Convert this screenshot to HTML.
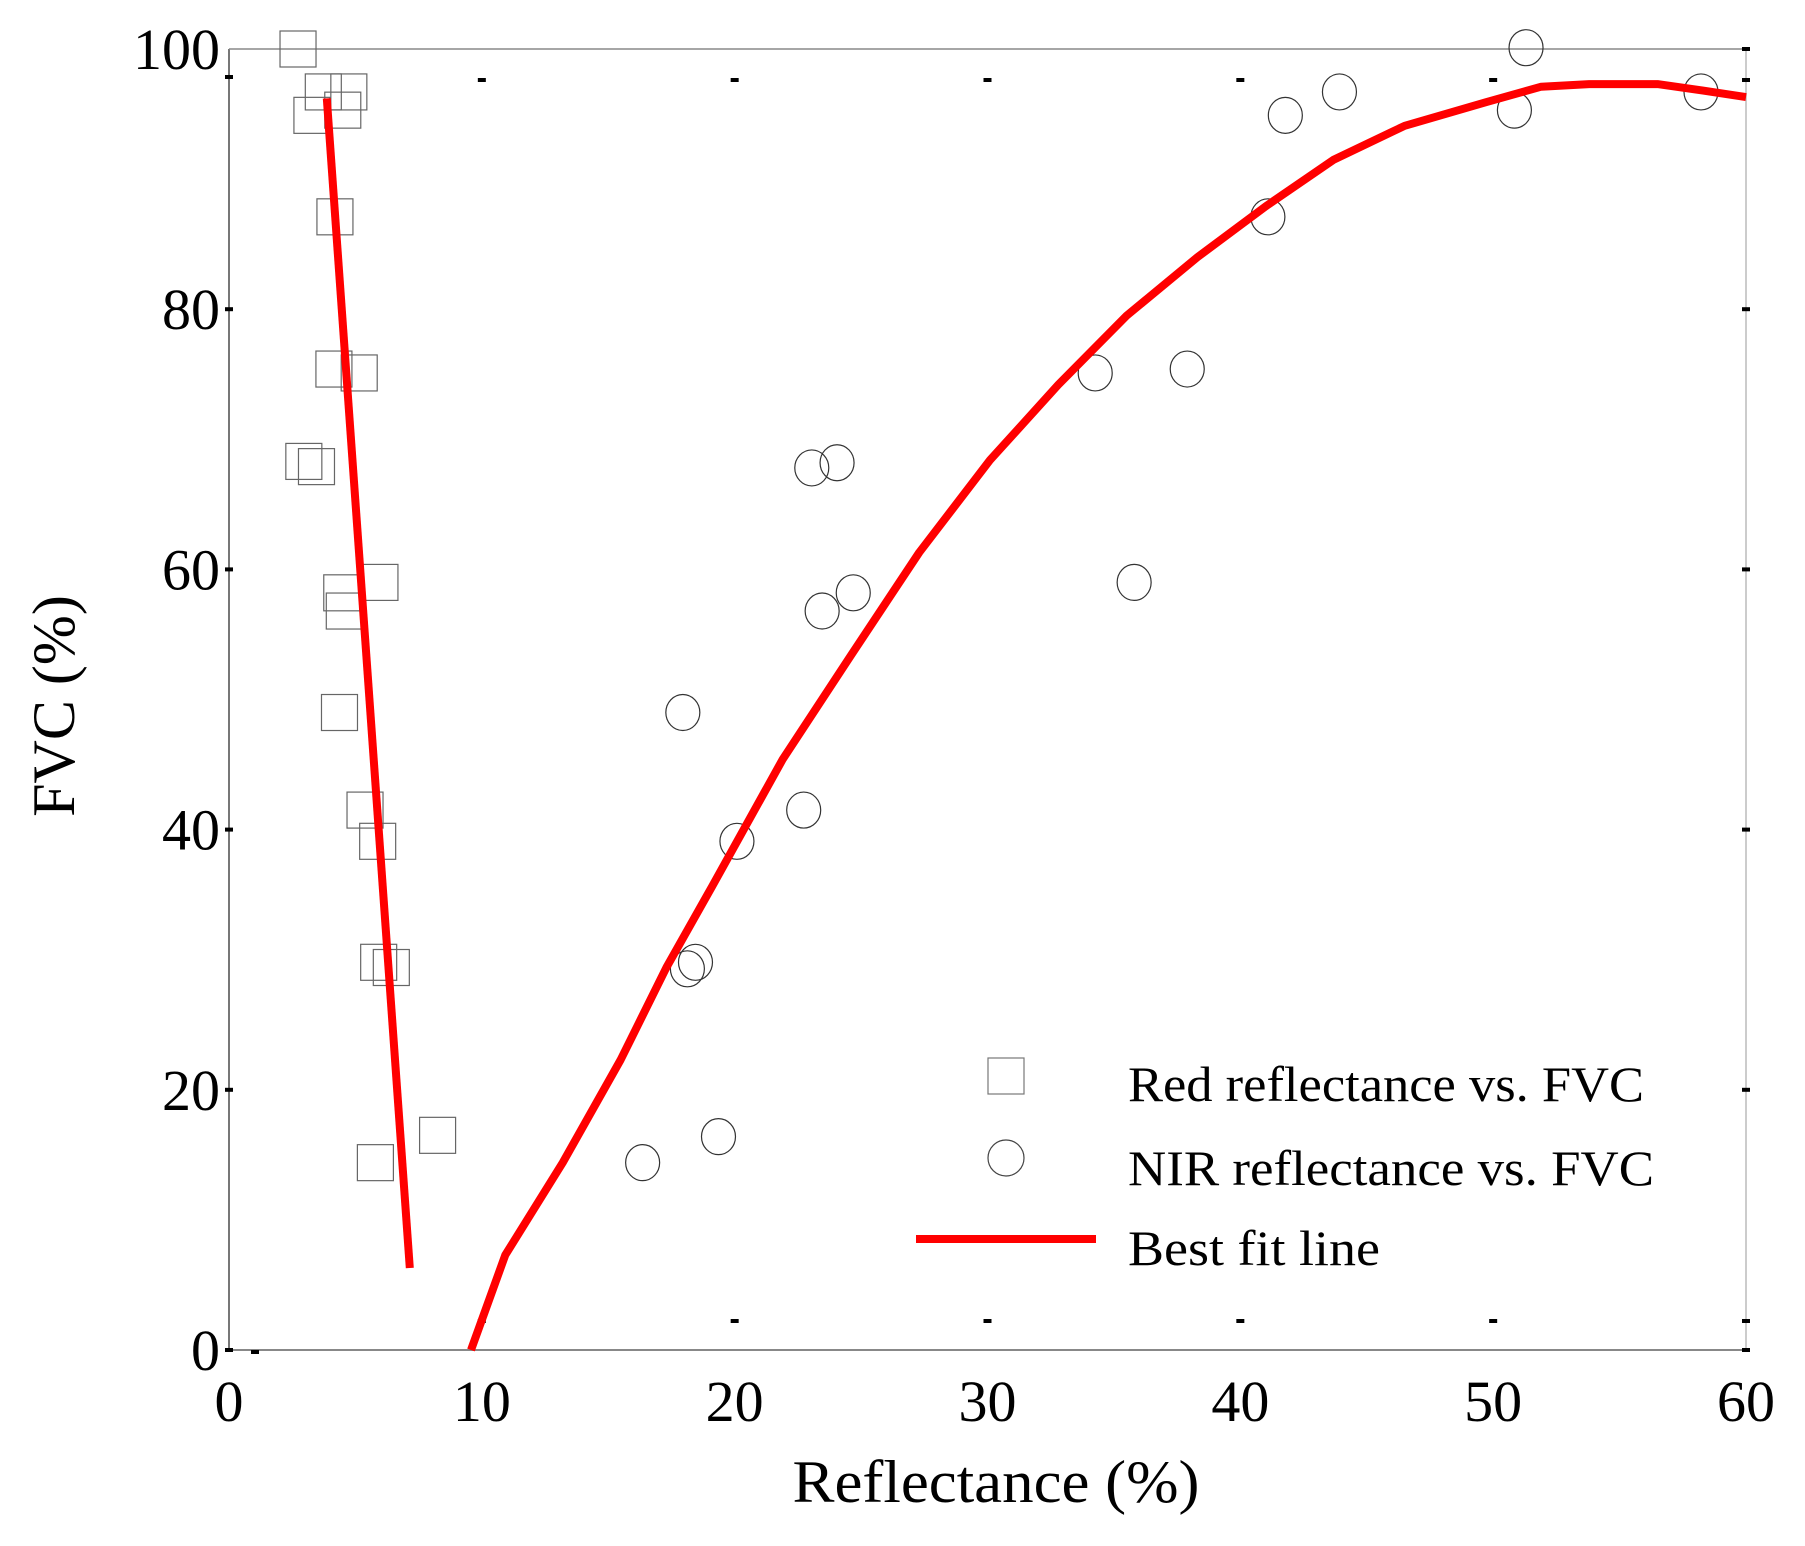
<!DOCTYPE html>
<html><head><meta charset="utf-8"><style>
html,body{margin:0;padding:0;background:#fff;}
svg{display:block;font-family:"Liberation Serif",serif;}
</style></head><body>
<svg id="chart" width="1805" height="1546" viewBox="0 0 1805 1546" xmlns="http://www.w3.org/2000/svg">
<g id="frame"></g>
<g id="ticks"></g>
<g id="marks"></g>
<g id="legend">
 <rect x="988" y="1058" width="36" height="36" fill="none" stroke="#777" stroke-width="1.2"/>
 <text x="1128" y="1101" font-size="50" textLength="516" lengthAdjust="spacingAndGlyphs">Red reflectance vs. FVC</text>
 <ellipse cx="1006" cy="1158" rx="18" ry="18" fill="none" stroke="#444" stroke-width="1.2"/>
 <text x="1128" y="1185" font-size="50" textLength="526" lengthAdjust="spacingAndGlyphs">NIR reflectance vs. FVC</text>
 <line x1="916" y1="1239" x2="1096" y2="1239" stroke="#ff0000" stroke-width="8"/>
 <text x="1128" y="1265" font-size="50" textLength="252" lengthAdjust="spacingAndGlyphs">Best fit line</text>
</g>
<text x="996" y="1502" font-size="60" text-anchor="middle" textLength="407" lengthAdjust="spacingAndGlyphs">Reflectance (%)</text>
<text transform="translate(74,706) rotate(-90)" font-size="60" text-anchor="middle">FVC (%)</text>
</svg>
<script>
const xTicks=[0,10,20,30,40,50,60];
const yTicks=[0,20,40,60,80,100];
const redX=[2.73,3.73,4.74,3.28,4.5,4.19,4.15,5.15,2.96,3.46,4.46,4.56,5.97,4.37,5.38,5.88,5.92,6.42,5.79,8.25];
const redY=[100,96.7,96.7,94.9,95.3,87.1,75.4,75.1,68.3,67.9,58.2,56.8,59.0,49.0,41.5,39.1,29.8,29.4,14.4,16.5];
const nirX=[16.36,17.95,18.13,18.45,19.36,20.09,22.73,23.05,24.05,23.46,24.69,34.26,37.9,35.8,41.09,41.78,43.92,50.84,51.3,58.22];
const nirY=[14.4,49.0,29.3,29.8,16.4,39.1,41.5,67.8,68.2,56.8,58.2,75.1,75.4,59.0,87.1,94.9,96.7,95.3,100.1,96.7];
const fitRedX=[3.87,7.15];
const fitRedY=[96.2,6.3];
const fitNirX=[9.57,10.93,13.2,15.49,17.3,19.1,21.9,24.6,27.3,30.1,32.8,35.5,38.3,41.0,43.7,46.5,49.7,51.9,53.8,56.5,58.3,60];
const fitNirY=[0,7.3,14.4,22.3,29.4,35.6,45.4,53.4,61.3,68.4,74.2,79.5,84.0,87.9,91.5,94.1,95.9,97.1,97.3,97.3,96.8,96.3];

const L=229,R=1746,T=49,B=1350;
const sx=v=>L+(v-0)/60*(R-L);
const sy=v=>B-(v-0)/100*(B-T);
const NS="http://www.w3.org/2000/svg";
function mk(tag,parent,attrs){const e=document.createElementNS(NS,tag);for(const k in attrs)e.setAttribute(k,attrs[k]);parent.appendChild(e);return e;}
const frame=document.getElementById('frame'),ticks=document.getElementById('ticks'),marks=document.getElementById('marks');
let e;
e=mk('line',frame,{x1:L,y1:B,x2:R,y2:B,stroke:'#888','stroke-width':2});


e=mk('line',frame,{x1:L,y1:T,x2:L,y2:B,stroke:'#777','stroke-width':2});


e=mk('line',frame,{x1:L,y1:T,x2:R,y2:T,stroke:'#888','stroke-width':1.5});


e=mk('line',frame,{x1:R,y1:T,x2:R,y2:B,stroke:'#bbb','stroke-width':1.5});



xTicks.forEach(v=>{
  const x=sx(v);
  e=mk('text',ticks,{x:x,y:1421,'font-size':58,'text-anchor':'middle'});
  e.textContent=v;
  
  
  if(v>0){
    e=mk('rect',ticks,{x:x-4,y:B-31,width:8,height:4,fill:'#000'});
    
    
    e=mk('rect',ticks,{x:x-4,y:T+29,width:8,height:4,fill:'#000'});
    
    
  }
});
yTicks.forEach(v=>{
  const y=sy(v);
  e=mk('text',ticks,{x:220,y:y+20,'font-size':58,'text-anchor':'end'});
  e.textContent=v;
  
  
  e=mk('rect',ticks,{x:L-4,y:y-2+(v===100?28:0),width:8,height:4,fill:'#000'});
  
  
  e=mk('rect',ticks,{x:R-4,y:y-2+(v===100?0:0),width:8,height:4,fill:'#000'});
  
  
});
e=mk('rect',ticks,{x:L+22,y:B,width:8,height:4,fill:'#000'});



redX.forEach((v,i)=>{
  e=mk('rect',marks,{x:sx(v)-18,y:sy(redY[i])-18,width:36,height:36,fill:'none',stroke:'#666','stroke-width':1.2});
  
  
});
nirX.forEach((v,i)=>{
  e=mk('ellipse',marks,{cx:sx(v),cy:sy(nirY[i]),rx:17,ry:18,fill:'none',stroke:'#333','stroke-width':1.2});
  
  
});
function pts(xs,ys){return xs.map((v,i)=>sx(v).toFixed(1)+','+sy(ys[i]).toFixed(1)).join(' ');}
e=mk('polyline',marks,{points:pts(fitRedX,fitRedY),fill:'none',stroke:'#ff0000','stroke-width':8});


e=mk('polyline',marks,{points:pts(fitNirX,fitNirY),fill:'none',stroke:'#ff0000','stroke-width':8,'stroke-linejoin':'round'});


</script>
</body></html>
